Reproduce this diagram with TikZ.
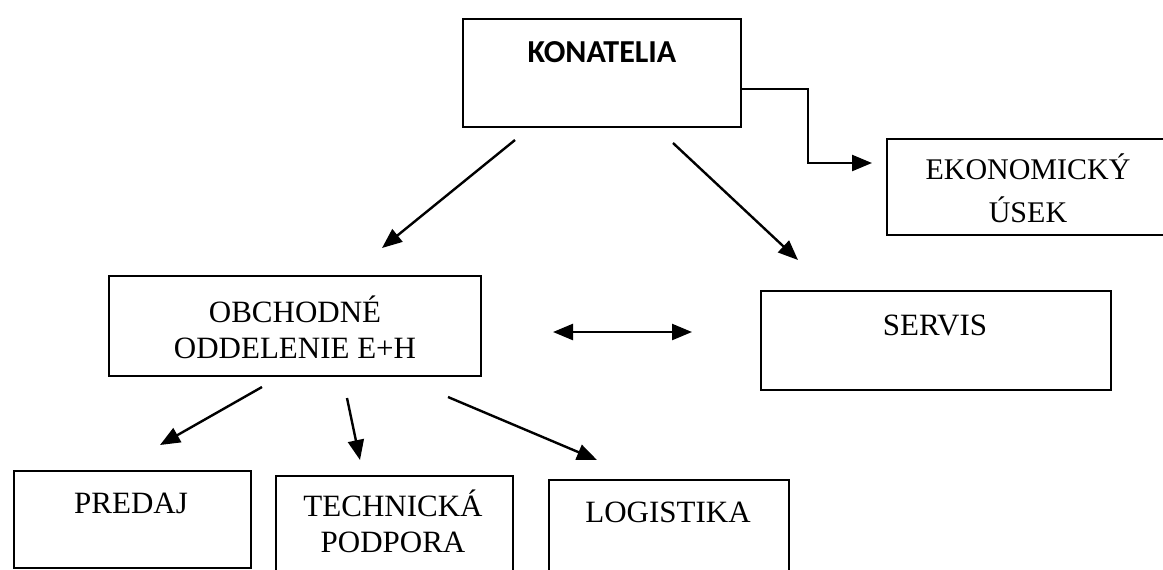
\documentclass[tikz,border=0pt]{standalone}
\usepackage{fontspec}
\setmainfont{Liberation Serif}
\newfontfamily\konfont{Carlito}
\usetikzlibrary{arrows.meta}

\begin{document}
\begin{tikzpicture}[x=0.5pt,y=-0.5pt,
  box/.style={draw,line width=0.9pt,inner sep=0pt,anchor=north west},
  lbl/.style={font=\fontsize{15.5}{18}\selectfont,align=center,inner sep=0pt},
  arr/.style={line width=1.2pt,-{Triangle[length=10pt,width=8pt]}},
  darr/.style={line width=1.2pt,{Triangle[length=10pt,width=8pt]}-{Triangle[length=10pt,width=8pt]}}]
\clip (0,0) rectangle (1163,569);
\fill[white] (0,0) rectangle (1163,569);
% boxes
\node[box,minimum width=139pt,minimum height=54pt] (kon) at (462,18) {};
\node[box,minimum width=143pt,minimum height=48pt] (eko) at (886,138) {};
\node[box,minimum width=186pt,minimum height=50pt] (obch) at (108,275) {};
\node[box,minimum width=175pt,minimum height=49.5pt] (serv) at (760,290) {};
\node[box,minimum width=118.5pt,minimum height=48.5pt] (pred) at (13,470) {};
\node[box,minimum width=118.5pt,minimum height=52pt] (tech) at (275,475) {};
\node[box,minimum width=120pt,minimum height=52pt] (logi) at (548,479) {};
% texts
\node[lbl,font=\konfont\bfseries\fontsize{16}{18}\selectfont] (konT) at (602,52) {KONATELIA};
\node[lbl,font=\fontsize{15}{21.5}\selectfont] (ekoT) at (1028,188) {EKONOMICKÝ\\ÚSEK};
\node[lbl] (obchT) at (295,327) {OBCHODNÉ\\ODDELENIE E+H};
\node[lbl] (servT) at (935,325) {SERVIS};
\node[lbl] (predT) at (131,503) {PREDAJ};
\node[lbl] (techT) at (393,521) {TECHNICKÁ\\PODPORA};
\node[lbl] (logiT) at (668,512) {LOGISTIKA};
% arrow ends
\coordinate (k1) at (515,140);
\coordinate (k2) at (382,248);
\coordinate (k3) at (673,143);
\coordinate (k4) at (798,260);
\coordinate (e1) at (741,89);
\coordinate (e2) at (872,163);
\coordinate (s1) at (553,332);
\coordinate (s2) at (692,332);
\coordinate (o1) at (262,387);
\coordinate (o2) at (160,445);
\coordinate (o3) at (347,398);
\coordinate (o4) at (360,460);
\coordinate (o5) at (448,397);
\coordinate (o6) at (597,460);
%
\draw[arr] (k1) -- (k2);
\draw[arr] (k3) -- (k4);
\draw[arr] (e1) -- (808,89) |- (e2);
\draw[darr] (s1) -- (s2);
\draw[arr] (o1) -- (o2);
\draw[arr] (o3) -- (o4);
\draw[arr] (o5) -- (o6);
\end{tikzpicture}
\end{document}
